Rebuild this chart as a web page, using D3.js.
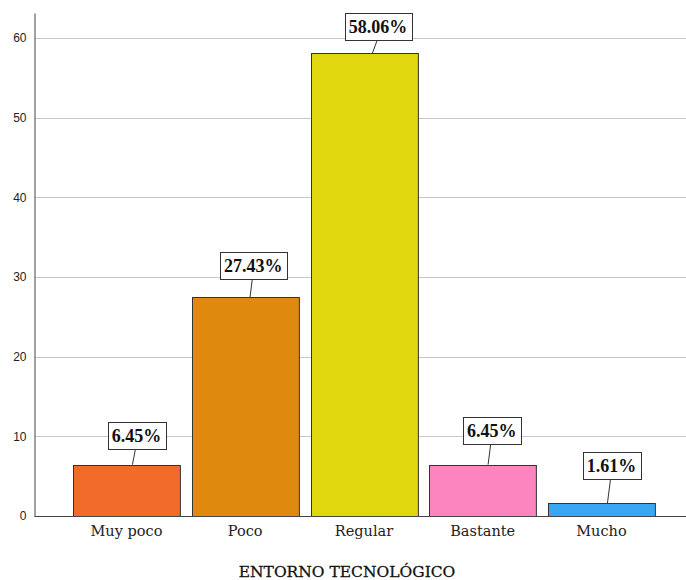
<!DOCTYPE html>
<html><head><meta charset="utf-8">
<script src="https://cdn.jsdelivr.net/npm/d3@7"></script>
<style>body{margin:0;background:#fff}</style>
</head><body>
<svg id="c" width="686" height="580"></svg>
<script>
const categories = ["Muy poco", "Poco", "Regular", "Bastante", "Mucho"];
const values = [6.45, 27.43, 58.06, 6.45, 1.61];
const labels = ["6.45%", "27.43%", "58.06%", "6.45%", "1.61%"];
const colors = ["#f26b2b", "#e0890f", "#e1d70f", "#fd85bf", "#3aa7f4"];
const yTicks = [0, 10, 20, 30, 40, 50, 60];
const xTitle = "ENTORNO TECNOLÓGICO";
// label box offsets (dx from bar centre, box-bottom gap above bar top)
const labelDx = [10, 8, 14, 9, 10];
const labelGap = [16, 18, 13, 21, 24];

const svg = d3.select("#c");
const x0 = 35, yBottom = 516, yTop = 13;
const y = d3.scaleLinear().domain([0, 63.13]).range([yBottom, yTop]);
const step = 118.75, outer = 38 / step;
const x = d3.scaleBand().domain(categories)
  .range([x0, x0 + step * (categories.length - 0.1 + 2 * outer)])
  .paddingInner(0.1).paddingOuter(outer);

// gridlines
svg.append("g").selectAll("line").data(yTicks.filter(d => d > 0)).join("line")
  .attr("x1", x0).attr("x2", 686)
  .attr("y1", d => Math.round(y(d)) + 0.5).attr("y2", d => Math.round(y(d)) + 0.5)
  .attr("stroke", "#c8c8c8").attr("stroke-width", 1);

// y axis
const yAxis = d3.axisLeft(y).tickValues(yTicks).tickSize(0).tickPadding(8);
const gy = svg.append("g").attr("transform", `translate(${x0 - 0.5},0)`).call(yAxis);
gy.select(".domain").attr("stroke", "#444");
gy.selectAll("text").attr("font-family", "Liberation Sans, Arial, sans-serif")
  .attr("font-size", 12).attr("fill", "#222");

// bars
svg.append("g").selectAll("rect").data(values).join("rect")
  .attr("x", (d, i) => Math.round(x(categories[i])) + 0.5)
  .attr("y", d => Math.round(y(d)) + 0.5)
  .attr("width", x.bandwidth())
  .attr("height", d => Math.round(yBottom) - Math.round(y(d)))
  .attr("fill", (d, i) => colors[i])
  .attr("stroke", "#333").attr("stroke-width", 1);

// x axis line
svg.append("line").attr("x1", x0 - 0.5).attr("x2", 686)
  .attr("y1", yBottom + 0.5).attr("y2", yBottom + 0.5)
  .attr("stroke", "#444");

// x axis labels
const xAxis = d3.axisBottom(x).tickSize(0).tickPadding(10);
const gx = svg.append("g").attr("transform", `translate(0,${yBottom})`).call(xAxis);
gx.select(".domain").remove();
gx.selectAll("text").attr("font-family", "DejaVu Serif, Liberation Serif, serif")
  .attr("font-size", 14.5).attr("fill", "#222");

// title
svg.append("text").attr("x", 347).attr("y", 577).attr("text-anchor", "middle")
  .attr("font-family", "DejaVu Serif, Liberation Serif, serif")
  .attr("font-size", 15.5).attr("fill", "#111")
  .attr("stroke", "#111").attr("stroke-width", 0.3).text(xTitle);

// data labels
const lg = svg.append("g");
values.forEach((v, i) => {
  const cx = x(categories[i]) + x.bandwidth() / 2;
  const top = y(v);
  const bx = cx + labelDx[i];
  const bottom = top - labelGap[i];
  const g = lg.append("g");
  const t = g.append("text").attr("x", bx).attr("y", bottom - 7)
    .attr("text-anchor", "middle")
    .attr("font-family", "Liberation Serif, DejaVu Serif, serif")
    .attr("font-weight", "bold").attr("font-size", 18).attr("fill", "#111")
    .text(labels[i]);
  const bb = t.node().getBBox();
  const w = bb.width + 8, h = 27;
  g.insert("rect", "text").attr("x", Math.round(bx - w / 2) + 0.5).attr("y", Math.round(bottom - h) + 0.5)
    .attr("width", Math.round(w)).attr("height", h)
    .attr("fill", "#fff").attr("stroke", "#333").attr("stroke-width", 1);
  g.append("line").attr("x1", bx - 1).attr("y1", bottom + 0.5)
    .attr("x2", cx + labelDx[i] * 0.6).attr("y2", top)
    .attr("stroke", "#333").attr("stroke-width", 1);
});
</script>
</body></html>
